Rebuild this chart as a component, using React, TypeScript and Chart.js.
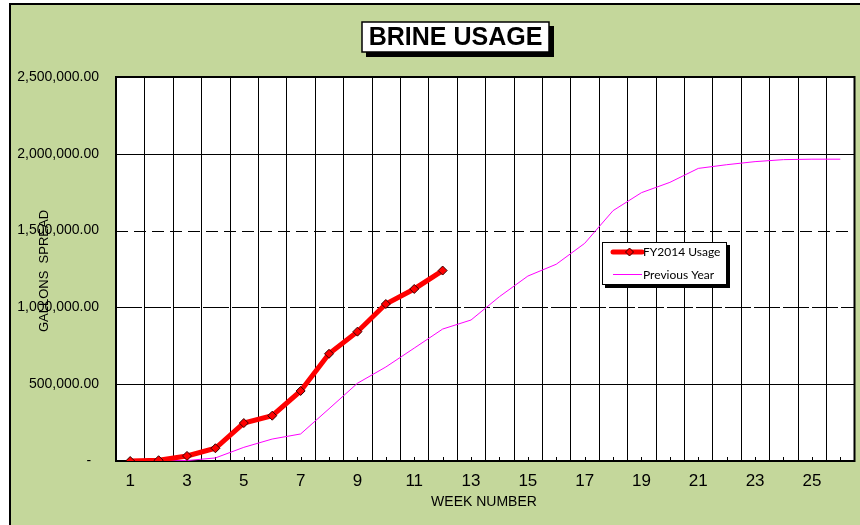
import React, { useEffect, useRef } from "react";
import { Chart, registerables } from "chart.js";

Chart.register(...registerables);

const weeks = ["1", "2", "3", "4", "5", "6", "7", "8", "9", "10", "11", "12", "13", "14", "15", "16", "17", "18", "19", "20", "21", "22", "23", "24", "25", "26"];
const fy2014Usage = [0, 5000, 33000, 83000, 247000, 295000, 456000, 698000, 842000, 1022000, 1120000, 1240000];
const previousYear = [0, 0, 3000, 20000, 89000, 143000, 176000, 340000, 506000, 612000, 735000, 859000, 918000, 1070000, 1204000, 1281000, 1417000, 1630000, 1747000, 1814000, 1905000, 1929000, 1949000, 1962000, 1965000, 1965000];
const yTickValues = [0, 500000, 1000000, 1500000, 2000000, 2500000];
const yTickLabels = ["-  ", "500,000.00", "1,000,000.00", "1,500,000.00", "2,000,000.00", "2,500,000.00"];

const FONT = "Arial, 'Liberation Sans', sans-serif";
const BG = "#C4D79B";

const decorPlugin = {
  id: "decor",
  beforeDraw(chart: any) {
    const { ctx, width, height, chartArea } = chart;
    ctx.save();
    ctx.fillStyle = "#ffffff";
    ctx.fillRect(0, 0, width, height);
    ctx.fillStyle = BG;
    ctx.fillRect(9, 3, width - 9, height - 3);
    ctx.fillStyle = "#000";
    ctx.fillRect(9, 3, 2, height - 3);
    ctx.fillRect(9, 3, width - 9, 2);
    ctx.fillStyle = "#ffffff";
    ctx.fillRect(chartArea.left, chartArea.top, chartArea.right - chartArea.left, chartArea.bottom - chartArea.top);
    ctx.restore();
  },
  beforeDatasetsDraw(chart: any) {
    const { ctx, chartArea } = chart;
    const xs = chart.scales.x;
    const ys = chart.scales.y;
    const half = (xs.getPixelForValue(1) - xs.getPixelForValue(0)) / 2;
    ctx.save();
    ctx.strokeStyle = "#000";
    ctx.lineWidth = 1;
    // vertical grid lines at category boundaries
    for (let i = 0; i <= weeks.length; i++) {
      const px = Math.round(xs.getPixelForValue(i) - half) + 0.5;
      ctx.beginPath();
      ctx.moveTo(px, chartArea.top);
      ctx.lineTo(px, chartArea.bottom);
      ctx.stroke();
    }
    // horizontal grid lines
    yTickValues.forEach((v) => {
      const py = Math.round(ys.getPixelForValue(v)) + 0.5;
      if (v === 1500000) ctx.setLineDash([12, 6]);
      else if (v === 1000000) ctx.setLineDash([26, 3]);
      else ctx.setLineDash([]);
      ctx.beginPath();
      ctx.moveTo(chartArea.left, py);
      ctx.lineTo(chartArea.right, py);
      ctx.stroke();
    });
    ctx.setLineDash([]);
    // small tick marks at category centres on the bottom axis
    for (let i = 0; i < weeks.length; i++) {
      const px = Math.round(xs.getPixelForValue(i)) + 0.5;
      ctx.beginPath();
      ctx.moveTo(px, chartArea.bottom);
      ctx.lineTo(px, chartArea.bottom - 4);
      ctx.stroke();
    }
    // plot border
    ctx.lineWidth = 2;
    ctx.strokeRect(chartArea.left, chartArea.top, chartArea.right - chartArea.left, chartArea.bottom - chartArea.top);
    ctx.restore();
  },
  afterDraw(chart: any) {
    const { ctx } = chart;
    ctx.save();
    // Title box
    ctx.fillStyle = "#000";
    ctx.fillRect(366, 26, 188, 31);
    ctx.fillStyle = "#fff";
    ctx.fillRect(362, 22, 187, 30);
    ctx.strokeStyle = "#000";
    ctx.lineWidth = 1.5;
    ctx.strokeRect(362, 22, 187, 30);
    ctx.fillStyle = "#000";
    ctx.font = `bold 25px ${FONT}`;
    ctx.textAlign = "center";
    ctx.textBaseline = "middle";
    ctx.fillText("BRINE USAGE", 455.5, 38);

    // Legend box
    ctx.fillStyle = "#000";
    ctx.fillRect(605, 245, 125, 43);
    ctx.fillStyle = "#fff";
    ctx.fillRect(602, 242, 125, 43);
    ctx.lineWidth = 1;
    ctx.strokeRect(602.5, 242.5, 124, 42);
    // FY2014 sample
    ctx.strokeStyle = "#ff0000";
    ctx.lineWidth = 5;
    ctx.lineCap = "round";
    ctx.beginPath();
    ctx.moveTo(613, 252);
    ctx.lineTo(642, 252);
    ctx.stroke();
    ctx.lineCap = "butt";
    ctx.fillStyle = "#ff0000";
    ctx.strokeStyle = "#300";
    ctx.lineWidth = 1;
    ctx.beginPath();
    ctx.moveTo(629.5, 248);
    ctx.lineTo(633.5, 252);
    ctx.lineTo(629.5, 256);
    ctx.lineTo(625.5, 252);
    ctx.closePath();
    ctx.fill();
    ctx.stroke();
    // Previous year sample
    ctx.strokeStyle = "#ff00ff";
    ctx.lineWidth = 1;
    ctx.beginPath();
    ctx.moveTo(613, 274.5);
    ctx.lineTo(642, 274.5);
    ctx.stroke();
    ctx.fillStyle = "#000";
    ctx.font = `12px Lato, 'Open Sans', sans-serif`;
    ctx.textAlign = "left";
    ctx.textBaseline = "middle";
    ctx.fillText("FY2014 Usage", 643, 252);
    ctx.fillText("Previous Year", 643, 275);

    // Axis titles
    ctx.font = `14px ${FONT}`;
    ctx.textAlign = "center";
    ctx.fillText("WEEK NUMBER", 484, 502);
    ctx.translate(44, 271);
    ctx.rotate(-Math.PI / 2);
    ctx.font = `13px ${FONT}`;
    ctx.fillText("GALLONS  SPREAD", 0, 0);
    ctx.restore();
  },
};

export default function App() {
  const ref = useRef<HTMLCanvasElement | null>(null);
  useEffect(() => {
    if (!ref.current) return;
    const chart = new Chart(ref.current, {
      type: "line",
      data: {
        labels: weeks,
        datasets: [
          {
            label: "Previous Year",
            data: previousYear,
            borderColor: "#ff00ff",
            backgroundColor: "#ff00ff",
            borderWidth: 1,
            pointRadius: 0,
            tension: 0,
            order: 2,
          },
          {
            label: "FY2014 Usage",
            data: fy2014Usage,
            borderColor: "#ff0000",
            backgroundColor: "#ff0000",
            borderWidth: 5,
            pointStyle: "rectRot",
            pointRadius: 4.5,
            pointBackgroundColor: "#ff0000",
            pointBorderColor: "#300",
            pointBorderWidth: 1,
            tension: 0,
            order: 1,
          },
        ],
      },
      options: {
        responsive: false,
        animation: false,
        layout: { padding: { left: 0, right: 5, top: 77, bottom: 0 } },
        plugins: {
          legend: { display: false },
          title: { display: false },
          tooltip: { enabled: false },
        },
        scales: {
          x: {
            type: "category",
            offset: true,
            grid: { display: false, drawTicks: false },
            border: { display: false },
            ticks: {
              autoSkip: false,
              maxRotation: 0,
              minRotation: 0,
              padding: 10,
              color: "#000",
              font: { family: FONT, size: 17 },
              callback: (_v: any, i: number) => (i % 2 === 0 ? weeks[i] : ""),
            },
            afterFit: (s: any) => {
              s.height = 64;
            },
          },
          y: {
            min: 0,
            max: 2500000,
            afterBuildTicks: (s: any) => {
              s.ticks = yTickValues.map((v) => ({ value: v }));
            },
            grid: { display: false, drawTicks: false },
            border: { display: false },
            ticks: {
              padding: 17,
              color: "#000",
              font: { family: FONT, size: 14 },
              callback: (v: any) => {
                const idx = yTickValues.indexOf(Number(v));
                return idx >= 0 ? yTickLabels[idx] : "";
              },
            },
            afterFit: (s: any) => {
              s.width = 116;
            },
          },
        },
      },
      plugins: [decorPlugin],
    });
    return () => chart.destroy();
  }, []);
  return (
    <div style={{ position: "absolute", left: 0, top: 0, width: 860, height: 525, background: "#fff" }}>
      <canvas ref={ref} width={860} height={525} style={{ display: "block", width: 860, height: 525 }} />
    </div>
  );
}
